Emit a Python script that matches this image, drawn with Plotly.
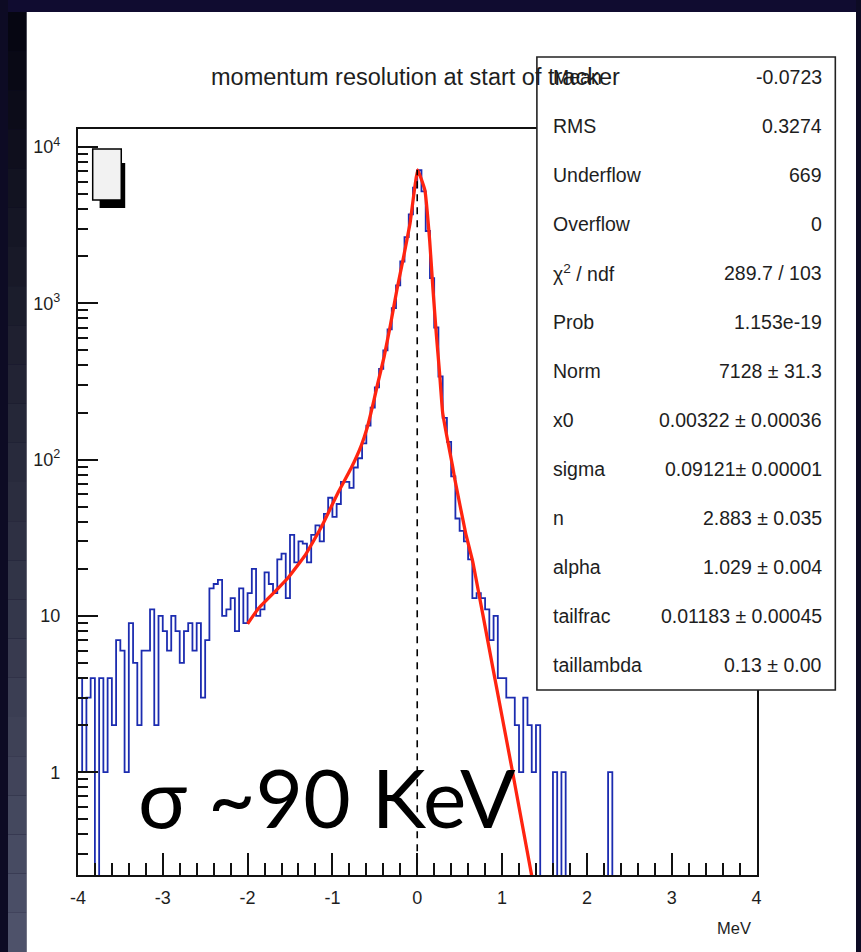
import numpy as np
import plotly.graph_objects as go

W, H = 861, 952

# ---------------- data ----------------
bin_lo, bin_width = -4.0, 0.05
counts_left_tail = [4, 1, 3, 4, 0, 4, 1, 4, 2, 7, 6, 1, 9, 5, 2, 6, 6, 11, 2, 10,
                    8, 6, 10, 8, 5, 8, 9, 6, 9, 3, 7, 15, 16, 17, 10, 11, 13, 8, 15, 9]
counts_left_shoulder = [14, 20, 10, 11, 19, 16, 14, 23, 25, 13, 33, 22, 30, 29, 22,
                        33, 38, 30, 45, 57, 43, 52, 72, 72, 66, 89, 102, 127, 165, 215]
counts_core = [290, 380, 500, 680, 930, 1300, 1850, 2650, 3700, 5500,
               7100, 5200, 2900, 1450, 700, 340, 185, 130, 78, 42]
counts_right_shoulder = [35, 30, 23, 13, 14, 13, 11, 7, 10, 4,
                         4, 3, 3, 2, 1, 3, 2, 1, 2, 0]
counts_right_tail = [0, 0, 1, 0, 1, 0, 0, 0, 0, 0,
                     0, 0, 0, 0, 0, 1, 0, 0, 0, 0,
                     0, 0, 0, 0, 0, 0, 0, 0, 0, 0,
                     0, 0, 0, 0, 0, 0, 0, 0, 0, 0,
                     0, 0, 0, 0, 0, 0, 0, 0, 0, 0]

fit_x = [-2.0, -1.87, -1.64, -1.52, -1.32, -1.13, -0.93, -0.78, -0.66, -0.59,
         -0.51, -0.47, -0.39, -0.32, -0.24, -0.16, -0.085, 0.005, 0.09, 0.147,
         0.186, 0.224, 0.263, 0.30, 0.35, 0.418, 0.445, 0.57, 0.658, 0.89, 1.12, 1.355]
fit_y = [8.9, 11.2, 15.0, 17.6, 24.5, 37, 62, 88, 123, 160,
         240, 300, 456, 708, 1217, 1990, 3240, 7130, 5300, 2510,
         1217, 645, 360, 199, 140, 90, 74, 34, 21.8, 4.7, 1.03, 0.21]

peak_norm = 7128

x_tickvals = [-4, -3, -2, -1, 0, 1, 2, 3, 4]
x_ticktext = ["-4", "-3", "-2", "-1", "0", "1", "2", "3", "4"]
y_tickvals = [1, 10, 100, 1000, 10000]
y_ticktext = ["1", "10", "10<sup>2</sup>", "10<sup>3</sup>", "10<sup>4</sup>"]
y_minor = [m * 10 ** d for d in range(-1, 4) for m in range(2, 10) if m * 10 ** d >= 0.3]

stat_labels = ["Mean", "RMS", "Underflow", "Overflow", "χ<sup>2</sup> / ndf", "Prob",
               "Norm", "x0", "sigma", "n", "alpha", "tailfrac", "taillambda"]
stat_values = ["-0.0723", "0.3274", "669", "0", "289.7 / 103", "1.153e-19",
               "7128 ± 31.3", "0.00322 ± 0.00036", "0.09121± 0.00001", "2.883 ± 0.035",
               "1.029 ± 0.004", "0.01183 ± 0.00045", "0.13 ± 0.00"]

title_text = "momentum resolution at start of tracker"
x_unit = "MeV"
big_text = "σ ~90 KeV"

# ---------------- build ----------------
counts = np.array(counts_left_tail + counts_left_shoulder + counts_core +
                  counts_right_shoulder + counts_right_tail, dtype=float)
edges = bin_lo + bin_width * np.arange(len(counts) + 1)
plot_counts = np.where(counts > 0, counts, 1e-3)
step_y = np.append(plot_counts, plot_counts[-1])

SANS = "Liberation Sans, Arial, Helvetica, sans-serif"
TXT = "#1e1e1e"


def px(x):
    return x / W


def py(y):
    return 1 - y / H


fig = go.Figure()
fig.add_trace(go.Scatter(x=edges, y=step_y, mode="lines", line=dict(color="#1c2cb0", width=1.8, shape="hv"),
                         hoverinfo="skip", showlegend=False))
fig.add_trace(go.Scatter(x=fit_x, y=fit_y, mode="lines", line=dict(color="#ff2410", width=3.3, shape="spline", smoothing=0.3),
                         hoverinfo="skip", showlegend=False))
fig.add_trace(go.Scatter(x=[0, 0], y=[1e-3, peak_norm], mode="lines",
                         line=dict(color="black", width=1.6, dash="7px,6px"), hoverinfo="skip", showlegend=False))

shapes = []
# slide background: left strip gradient, top strip
nb = 24
top_c = np.array([6, 6, 18])
bot_c = np.array([78, 82, 106])
for i in range(nb):
    t = i / (nb - 1)
    c = (top_c * (1 - t) + bot_c * t).astype(int)
    shapes.append(dict(type="rect", xref="paper", yref="paper", x0=0, x1=px(19),
                       y0=py(12 + (H - 12) * (i + 1) / nb), y1=py(12 + (H - 12) * i / nb),
                       fillcolor="rgb(%d,%d,%d)" % tuple(c), line=dict(width=0), layer="below"))
shapes.append(dict(type="rect", xref="paper", yref="paper", x0=0, x1=1, y0=py(12), y1=1,
                   fillcolor="#100c30", line=dict(width=0), layer="below"))
shapes.append(dict(type="rect", xref="paper", yref="paper", x0=px(19), x1=1, y0=0, y1=py(12),
                   fillcolor="white", line=dict(width=0), layer="below"))
# small legend box top-left
shapes.append(dict(type="rect", xref="paper", yref="paper", x0=px(93), x1=px(119), y0=py(208), y1=py(163),
                   fillcolor="black", line=dict(width=0), layer="above"))
shapes.append(dict(type="rect", xref="paper", yref="paper", x0=px(86), x1=px(115), y0=py(200), y1=py(149),
                   fillcolor="#f2f2f2", line=dict(color="black", width=1.5), layer="above"))
# stats box
shapes.append(dict(type="rect", xref="paper", yref="paper", x0=px(537), x1=px(840), y0=py(690), y1=py(57),
                   fillcolor="white", line=dict(color="#222", width=1.6), layer="above"))

annotations = []
annotations.append(dict(text=title_text, xref="paper", yref="paper", x=px(414), y=py(77),
                        xanchor="center", yanchor="middle", showarrow=False,
                        font=dict(family=SANS, size=23.5, color=TXT)))
row_y = [77] + [126 + 49 * i for i in range(len(stat_labels) - 1)]
for lab, val, yy in zip(stat_labels, stat_values, row_y):
    annotations.append(dict(text=lab, xref="paper", yref="paper", x=px(551), y=py(yy),
                            xanchor="left", yanchor="middle", showarrow=False,
                            font=dict(family=SANS, size=19.5, color=TXT)))
    annotations.append(dict(text=val, xref="paper", yref="paper", x=px(829), y=py(yy),
                            xanchor="right", yanchor="middle", showarrow=False,
                            font=dict(family=SANS, size=19.5, color=TXT)))
annotations.append(dict(text=x_unit, xref="paper", yref="paper", x=px(756), y=py(928),
                        xanchor="right", yanchor="middle", showarrow=False,
                        font=dict(family=SANS, size=16.5, color=TXT)))
annotations.append(dict(text=big_text, xref="paper", yref="paper", x=px(130), y=py(796),
                        xanchor="left", yanchor="middle", showarrow=False,
                        font=dict(family="Lato, Open Sans, sans-serif", size=82, color="black")))

fig.update_layout(
    width=W, height=H, margin=dict(l=0, r=0, t=0, b=0),
    paper_bgcolor="#0d0b24", plot_bgcolor="white",
    shapes=shapes, annotations=annotations, showlegend=False,
    xaxis=dict(domain=[px(71), px(760)], range=[-4, 4], tickmode="array", tickvals=x_tickvals, ticktext=x_ticktext,
               ticks="inside", ticklen=22, tickwidth=1.5, tickcolor="#111",
               minor=dict(dtick=0.2, tick0=-4, ticks="inside", ticklen=12, tickwidth=1.5, tickcolor="#111", showgrid=False),
               showline=True, linecolor="#111", linewidth=2, mirror=True, showgrid=False, zeroline=False,
               tickfont=dict(family=SANS, size=18, color=TXT), ticklabelstandoff=5),
    yaxis=dict(type="log", domain=[py(875), py(129)], range=[np.log10(0.22), 4.115],
               tickmode="array", tickvals=y_tickvals, ticktext=y_ticktext,
               ticks="inside", ticklen=20, tickwidth=1.5, tickcolor="#111",
               minor=dict(tickvals=y_minor, ticks="inside", ticklen=10, tickwidth=1.5, tickcolor="#111", showgrid=False),
               showline=True, linecolor="#111", linewidth=2, mirror=True, showgrid=False, zeroline=False,
               tickfont=dict(family=SANS, size=18, color=TXT), ticklabelstandoff=12),
)

fig.write_html("out.html")
